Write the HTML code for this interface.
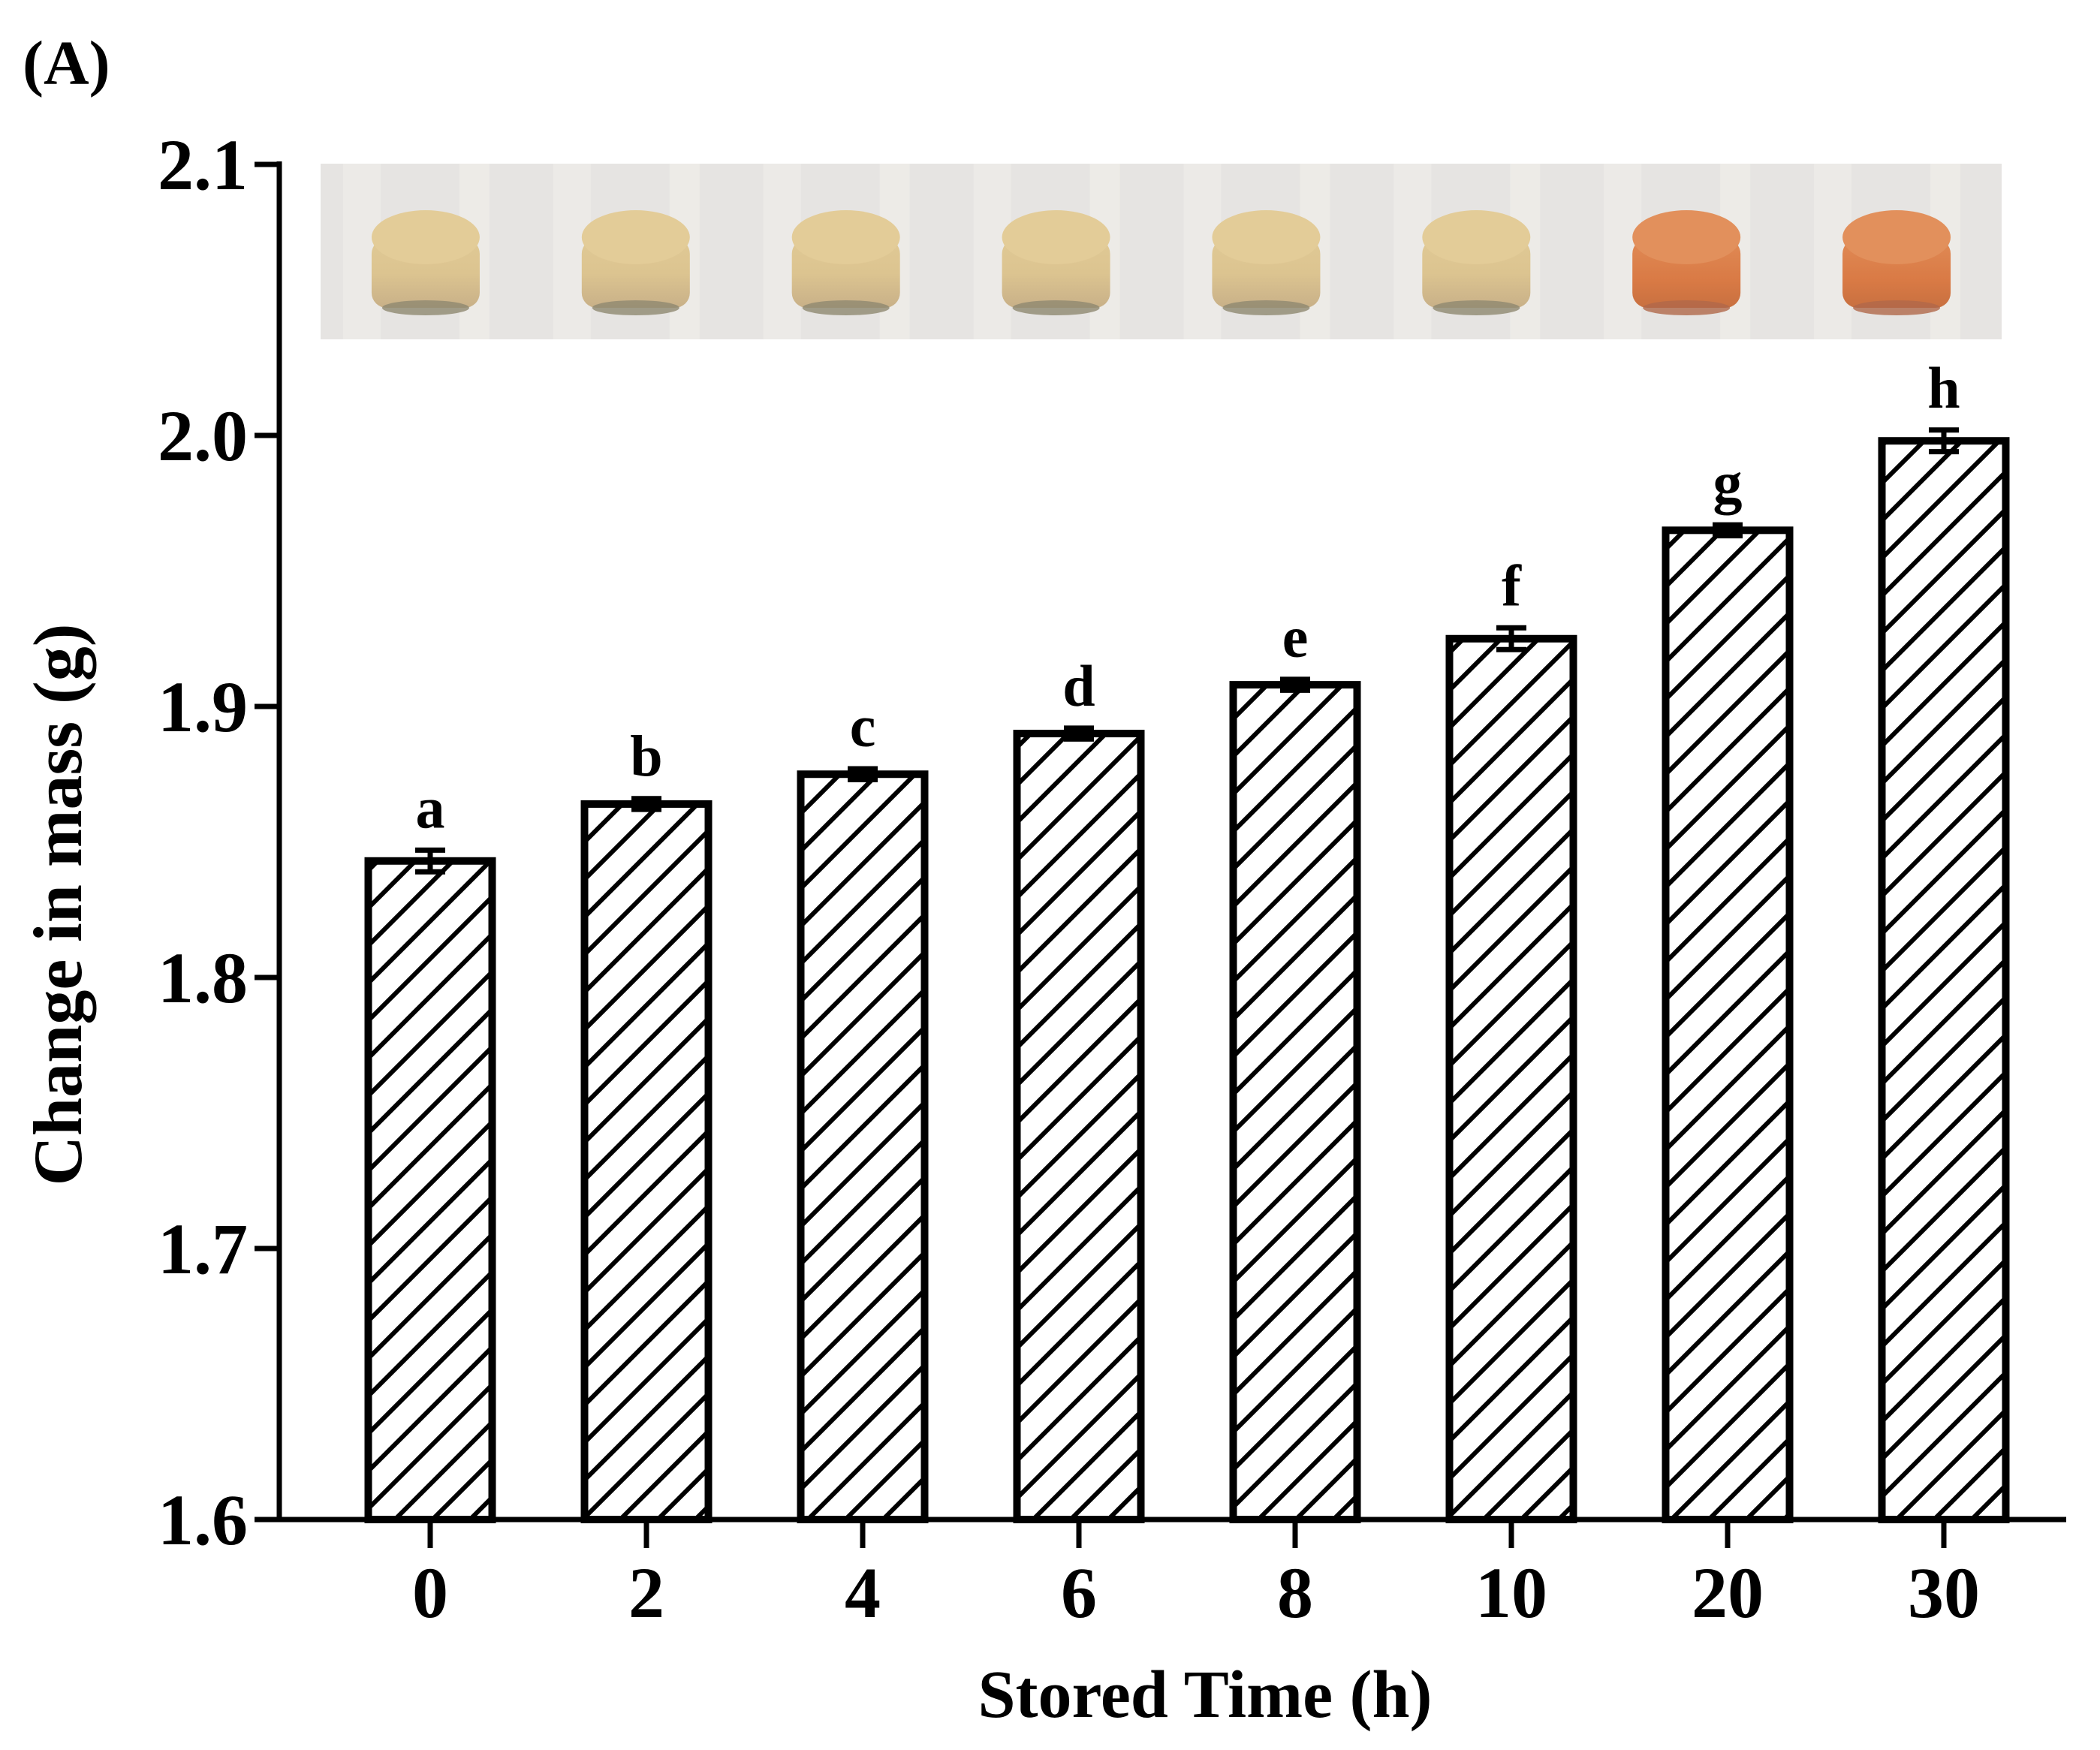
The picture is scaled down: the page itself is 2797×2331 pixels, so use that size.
<!DOCTYPE html>
<html><head><meta charset="utf-8"><style>
html,body{margin:0;padding:0;background:#fff;}
svg{display:block;}
text{font-family:"Liberation Serif",serif;font-weight:bold;fill:#000;}
</style></head><body>
<svg id="chart" width="2797" height="2331" viewBox="0 0 2797 2331" xmlns="http://www.w3.org/2000/svg">
<defs>
<pattern id="hatch" patternUnits="userSpaceOnUse" width="50" height="50">
<path d="M-10,10 L10,-10 M0,50 L50,0 M40,60 L60,40" stroke="#000" stroke-width="6"/>
</pattern>
<linearGradient id="beige" x1="0" y1="0" x2="0" y2="1">
<stop offset="0" stop-color="#e0c995"/><stop offset="0.5" stop-color="#dcc490"/><stop offset="1" stop-color="#c8b088"/>
</linearGradient>
<linearGradient id="orange" x1="0" y1="0" x2="0" y2="1">
<stop offset="0" stop-color="#e08a55"/><stop offset="0.6" stop-color="#d97a45"/><stop offset="1" stop-color="#c87040"/>
</linearGradient>
</defs>
<text x="30" y="112" font-size="84">(A)</text>
<g id="photo"></g>
<g id="marks"></g>
<g id="axes"></g>
<text transform="translate(108,1205) rotate(-90)" text-anchor="middle" font-size="92">Change in mass (g)</text>
<text x="1605" y="2287" text-anchor="middle" font-size="90">Stored Time (h)</text>
</svg>
<script>
const categories = ["0","2","4","6","8","10","20","30"];
const values = [1.843, 1.864, 1.875, 1.890, 1.908, 1.925, 1.965, 1.998];
const errors = [0.004, 0.002, 0.002, 0.002, 0.002, 0.004, 0.002, 0.004];
const letters = ["a","b","c","d","e","f","g","h"];
const yTicks = [1.6, 1.7, 1.8, 1.9, 2.0, 2.1];
const yTickLabels = ["1.6","1.7","1.8","1.9","2.0","2.1"];

const NS = "http://www.w3.org/2000/svg";
const yMin = 1.6, yMax = 2.1, yBottom = 2024, yTop = 219;
const axisX = 372, axisRight = 2752, firstX = 573, step = 288, barW = 165;
function y(v){ return yBottom - (v - yMin) / (yMax - yMin) * (yBottom - yTop); }
function x(i){ return firstX + i * step; }
function mk(tag, attrs, parent){
  const e = document.createElementNS(NS, tag);
  for (const k in attrs) e.setAttribute(k, attrs[k]);
  parent.appendChild(e); return e;
}
const photo = document.getElementById('photo');
mk('rect',{x:427,y:218,width:2239,height:234,fill:'#e6e4e2'},photo);
const marks = document.getElementById('marks');
const axes = document.getElementById('axes');

for (let i = 0; i < categories.length; i++) {
  const px = 427 + (i + 0.5) * 2239 / 8;
  const fill = i >= 6 ? 'url(#orange)' : 'url(#beige)';
  const g = mk('g',{},photo);
  
  
  mk('rect',{x:px-110,y:218,width:50,height:234,fill:'#eeede9',opacity:0.7},g);
  mk('rect',{x:px+45,y:218,width:40,height:234,fill:'#efeeea',opacity:0.7},g);
  mk('rect',{x:px-72,y:318,width:144,height:92,rx:20,fill:fill},g);
  mk('ellipse',{cx:px,cy:316,rx:72,ry:36,fill:i>=6?'#e2905c':'#e3cc98'},g);
  mk('ellipse',{cx:px,cy:410,rx:58,ry:10,fill:i>=6?'#b0684a':'#8e8870',opacity:0.8},g);
}

for (let i = 0; i < values.length; i++) {
  const cx = x(i), top = y(values[i]);
  const r = mk('rect',{x:cx-barW/2,y:top,width:barW,height:yBottom-top,fill:'url(#hatch)',stroke:'#000','stroke-width':10},marks);
  
  
  const eg = mk('g',{stroke:'#000','stroke-width':7},marks);
  
  
  const yh = y(values[i] + errors[i]), yl = y(values[i] - errors[i]);
  mk('line',{x1:cx,y1:yh,x2:cx,y2:yl},eg);
  mk('line',{x1:cx-20,y1:yh,x2:cx+20,y2:yh},eg);
  mk('line',{x1:cx-20,y1:yl,x2:cx+20,y2:yl},eg);
  const t = mk('text',{x:cx,y:yh-30,'text-anchor':'middle','font-size':78},marks);
  t.textContent = letters[i];
  
  
}

const ya = mk('line',{x1:axisX,y1:yTop-4,x2:axisX,y2:yBottom+3,stroke:'#000','stroke-width':7},axes);


const xa = mk('line',{x1:axisX-33,y1:yBottom,x2:axisRight,y2:yBottom,stroke:'#000','stroke-width':7},axes);


for (let j = 0; j < yTicks.length; j++) {
  const ty = y(yTicks[j]);
  mk('line',{x1:axisX-33,y1:ty,x2:axisX,y2:ty,stroke:'#000','stroke-width':7},axes);
  const t = mk('text',{x:axisX-42,y:ty+33,'text-anchor':'end','font-size':96},axes);
  t.textContent = yTickLabels[j];
  
  
}
for (let i = 0; i < categories.length; i++) {
  mk('line',{x1:x(i),y1:yBottom,x2:x(i),y2:yBottom+38,stroke:'#000','stroke-width':7},axes);
  const t = mk('text',{x:x(i),y:yBottom+130,'text-anchor':'middle','font-size':96},axes);
  t.textContent = categories[i];
  
  
}
</script>
</body></html>
